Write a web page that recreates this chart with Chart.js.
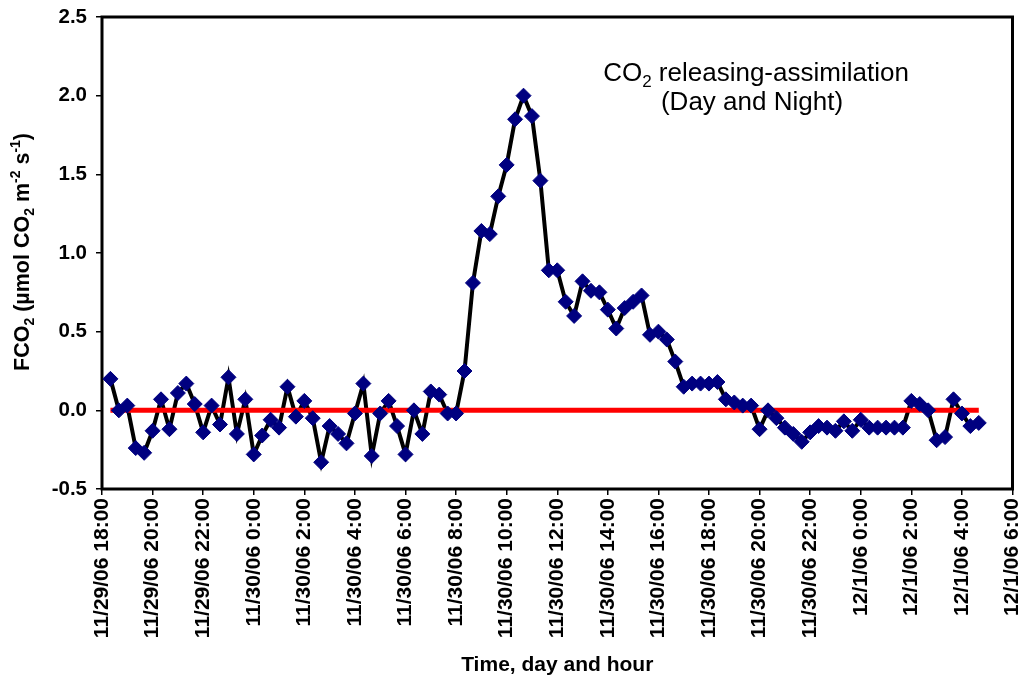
<!DOCTYPE html>
<html>
<head>
<meta charset="utf-8">
<script src="https://cdn.jsdelivr.net/npm/chart.js@4.4.0/dist/chart.umd.min.js"></script>
<style>
    html, body { margin: 0; padding: 0; background: #fff; }
    canvas { display: block; }
</style>
</head>
<body>
<canvas id="fluxChart" width="1021" height="683"></canvas>
<script>
// sampling: every 20 min, first sample at 11/29/06 18:20 (hours counted from 18:00)
const firstSampleHour = 1 / 3;
const sampleStepHours = 1 / 3;

// FCO2, umol CO2 m-2 s-1
const fco2 = [
    0.20, 0.00, 0.03, -0.24, -0.27, -0.13, 0.07, -0.12, 0.11, 0.17,
    0.04, -0.14, 0.03, -0.09, 0.21, -0.15, 0.07, -0.28, -0.16, -0.06,
    -0.11, 0.15, -0.04, 0.06, -0.05, -0.33, -0.10, -0.15, -0.21, -0.02,
    0.17, -0.29, -0.02, 0.06, -0.10, -0.28, 0.00, -0.15, 0.12, 0.10,
    -0.02, -0.02, 0.25, 0.81, 1.14, 1.12, 1.36, 1.56, 1.85, 2.00,
    1.87, 1.46, 0.89, 0.89, 0.69, 0.60, 0.82, 0.76, 0.75, 0.64,
    0.52, 0.65, 0.69, 0.73, 0.48, 0.50, 0.45, 0.31, 0.15, 0.17,
    0.17, 0.17, 0.18, 0.07, 0.05, 0.03, 0.03, -0.12, 0.00, -0.05,
    -0.11, -0.15, -0.20, -0.14, -0.10, -0.11, -0.13, -0.07, -0.13, -0.06,
    -0.11, -0.11, -0.11, -0.11, -0.11, 0.06, 0.04, 0.00, -0.19, -0.17,
    0.07, -0.02, -0.10, -0.08
];

// zero reference line, from first to last sample
const zeroLine = [0, 0];

const tickLabels = [
    "11/29/06 18:00", "11/29/06 20:00", "11/29/06 22:00",
    "11/30/06 0:00", "11/30/06 2:00", "11/30/06 4:00", "11/30/06 6:00",
    "11/30/06 8:00", "11/30/06 10:00", "11/30/06 12:00", "11/30/06 14:00",
    "11/30/06 16:00", "11/30/06 18:00", "11/30/06 20:00", "11/30/06 22:00",
    "12/1/06 0:00", "12/1/06 2:00", "12/1/06 4:00", "12/1/06 6:00"
];

const fluxPoints = fco2.map((v, i) => ({ x: firstSampleHour + i * sampleStepHours, y: v }));
const lastHour = firstSampleHour + (fco2.length - 1) * sampleStepHours;
const zeroPoints = [{ x: firstSampleHour, y: zeroLine[0] }, { x: lastHour, y: zeroLine[1] }];

const FONT = "'Liberation Sans', Arial, sans-serif";

// text with sub/superscripts, centered on (x, y)
function drawRich(ctx, parts, x, y, size, weight) {
    const small = Math.round(size * 0.65);
    let total = 0;
    parts.forEach(p => {
        ctx.font = weight + " " + (p.sub || p.sup ? small : size) + "px " + FONT;
        p.w = ctx.measureText(p.t).width;
        total += p.w;
    });
    let cx = x - total / 2;
    ctx.textAlign = "left";
    ctx.textBaseline = "alphabetic";
    parts.forEach(p => {
        ctx.font = weight + " " + (p.sub || p.sup ? small : size) + "px " + FONT;
        let dy = 0;
        if (p.sub) dy = size * 0.22;
        if (p.sup) dy = -size * 0.42;
        ctx.fillText(p.t, cx, y + dy);
        cx += p.w;
    });
}

const framePlugin = {
    id: "frame",
    beforeDatasetsDraw(chart) {
        const { ctx, chartArea: a } = chart;
        ctx.save();
        ctx.strokeStyle = "#000";
        ctx.lineWidth = 3;
        ctx.strokeRect(a.left, a.top, a.right - a.left, a.bottom - a.top);
        ctx.restore();
    },
    afterDraw(chart) {
        const ctx = chart.ctx;
        ctx.save();
        ctx.fillStyle = "#000";
        // y axis title
        ctx.translate(29, 252);
        ctx.rotate(-Math.PI / 2);
        drawRich(ctx, [
            { t: "FCO" }, { t: "2", sub: true }, { t: " (\u00b5mol CO" }, { t: "2", sub: true },
            { t: " m" }, { t: "-2", sup: true }, { t: " s" }, { t: "-1", sup: true }, { t: ")" }
        ], 0, 0, 21.5, "bold");
        ctx.restore();

        ctx.save();
        ctx.fillStyle = "#000";
        drawRich(ctx, [{ t: "CO" }, { t: "2", sub: true }, { t: " releasing-assimilation" }], 756, 81, 26, "normal");
        drawRich(ctx, [{ t: "(Day and Night)" }], 752, 110, 26, "normal");
        ctx.restore();
    }
};

const ctx = document.getElementById("fluxChart").getContext("2d");
new Chart(ctx, {
    type: "line",
    data: {
        datasets: [
            {
                label: "FCO2 line",
                data: fluxPoints,
                borderColor: "#000",
                borderWidth: 4,
                pointRadius: 0,
                tension: 0,
                order: 3
            },
            {
                label: "zero",
                data: zeroPoints,
                borderColor: "#ff0000",
                borderWidth: 5,
                pointRadius: 0,
                order: 2
            },
            {
                label: "FCO2",
                data: fluxPoints,
                showLine: false,
                pointStyle: "rectRot",
                pointRadius: 7.5,
                pointBackgroundColor: "#000080",
                pointBorderColor: "#000080",
                pointBorderWidth: 1,
                order: 1
            }
        ]
    },
    options: {
        responsive: false,
        animation: false,
        layout: { padding: { top: 17, right: 6, left: 0, bottom: 0 } },
        plugins: {
            legend: { display: false },
            tooltip: { enabled: false }
        },
        scales: {
            x: {
                type: "linear",
                min: 0,
                max: 36,
                afterFit: s => { s.height = 194; s.paddingLeft = 0; s.paddingRight = 0; },
                border: { display: false },
                grid: { drawOnChartArea: false, color: "#000", lineWidth: 1.5, tickLength: 6 },
                ticks: {
                    stepSize: 2,
                    autoSkip: false,
                    minRotation: 90,
                    maxRotation: 90,
                    padding: 3,
                    color: "#000",
                    font: { family: FONT, size: 21, weight: "bold" },
                    callback: (v, i) => tickLabels[i]
                },
                title: {
                    display: true,
                    text: "Time, day and hour",
                    color: "#000",
                    font: { family: FONT, size: 21, weight: "bold" },
                    padding: { top: 0, bottom: 5 }
                }
            },
            y: {
                min: -0.5,
                max: 2.5,
                afterFit: s => { s.width = 102; s.paddingTop = 0; s.paddingBottom = 0; },
                border: { display: false },
                grid: { drawOnChartArea: false, color: "#000", lineWidth: 1.5, tickLength: 6 },
                ticks: {
                    stepSize: 0.5,
                    padding: 9,
                    color: "#000",
                    font: { family: FONT, size: 20.5, weight: "bold" },
                    callback: v => v.toFixed(1)
                }
            }
        }
    },
    plugins: [framePlugin]
});
</script>
</body>
</html>
